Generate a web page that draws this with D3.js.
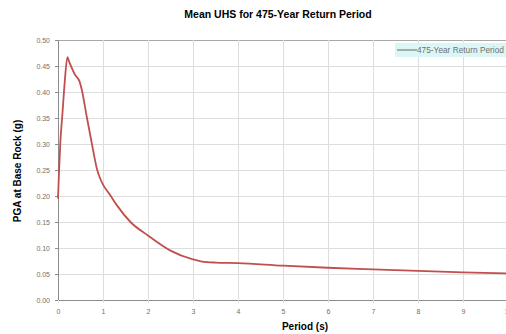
<!DOCTYPE html>
<html>
<head>
<meta charset="utf-8">
<script src="https://cdn.jsdelivr.net/npm/d3@7"></script>
<style>
  body { margin: 0; background: #fff; }
  svg { display: block; font-family: "Liberation Sans", Arial, sans-serif; }
</style>
</head>
<body>
<div id="chart"></div>
<script>
// period (s) and mean UHS spectral acceleration (g)
var periods = [0, 0.02, 0.05, 0.1, 0.15, 0.21, 0.25, 0.38, 0.48, 0.53, 0.64, 0.75, 0.86, 0.93, 1.0, 1.15, 1.31, 1.61, 2.0, 2.5, 3.0, 3.2, 3.5, 4, 5, 6, 7, 8, 9, 10];
var pga     = [0.195, 0.24, 0.30, 0.36, 0.42, 0.467, 0.458, 0.433, 0.42, 0.404, 0.352, 0.302, 0.254, 0.235, 0.222, 0.203, 0.182, 0.150, 0.124, 0.095, 0.078, 0.074, 0.072, 0.071, 0.066, 0.062, 0.059, 0.056, 0.053, 0.051];
var xTicks = [0, 1, 2, 3, 4, 5, 6, 7, 8, 9, 10];
var yTicks = [0, 0.05, 0.1, 0.15, 0.2, 0.25, 0.3, 0.35, 0.4, 0.45, 0.5];
var seriesName = "475-Year Return Period";

var svgWidth = 506, svgHeight = 334;
var margin = {top: 40, left: 58, bottom: 34};
var height = svgHeight - margin.top - margin.bottom;   // 260
var width = 450;  // plot runs past the right edge of the picture

var svg = d3.select("#chart").append("svg")
  .attr("width", svgWidth)
  .attr("height", svgHeight);

var chartGroup = svg.append("g")
  .attr("transform", `translate(${margin.left}, ${margin.top})`);

var xScale = d3.scaleLinear().domain([0, 10]).range([0, width]);
var yScale = d3.scaleLinear().domain([0, 0.5]).range([height, 0]);

// grid lines
chartGroup.selectAll(".hgrid").data(yTicks).enter().append("line")
  .attr("x1", 0).attr("x2", width)
  .attr("y1", d => yScale(d)).attr("y2", d => yScale(d))
  .attr("stroke", d => d === 0.5 ? "#a8a8a8" : "#dedede")
  .attr("stroke-width", 1).attr("shape-rendering", "crispEdges");

chartGroup.selectAll(".vgrid").data(xTicks.slice(1)).enter().append("line")
  .attr("x1", d => xScale(d)).attr("x2", d => xScale(d))
  .attr("y1", 0).attr("y2", height)
  .attr("stroke", "#dedede")
  .attr("stroke-width", 1).attr("shape-rendering", "crispEdges");

// axes
var leftAxis = d3.axisLeft(yScale).tickValues(yTicks).tickFormat(d3.format(".2f")).tickSize(3).tickPadding(5);
var bottomAxis = d3.axisBottom(xScale).tickValues(xTicks).tickFormat(d3.format("d")).tickSize(3).tickPadding(6);

var yAxis = chartGroup.append("g").call(leftAxis);
var xAxis = chartGroup.append("g").attr("transform", `translate(0, ${height})`).call(bottomAxis);

[yAxis, xAxis].forEach(function(ax) {
  ax.select(".domain").attr("stroke", "#8c8c8c");
  ax.selectAll(".tick line").attr("stroke", "#8c8c8c");
  ax.selectAll("text").attr("fill", "#707070").attr("font-size", 7);
});
xAxis.selectAll(".tick line").attr("stroke", "#dedede");

// the curve
var line = d3.line()
  .x((d, i) => xScale(periods[i]))
  .y(d => yScale(d))
  .curve(d3.curveMonotoneX);

chartGroup.append("path")
  .datum(pga)
  .attr("d", line)
  .attr("fill", "none")
  .attr("stroke", "#c0504d")
  .attr("stroke-width", 1.8);

// legend
var legend = svg.append("g").attr("transform", "translate(395, 43)");
legend.append("rect").attr("width", 120).attr("height", 14).attr("fill", "#dcf6f6");
legend.append("line").attr("x1", 2).attr("x2", 22).attr("y1", 7).attr("y2", 7)
  .attr("stroke", "#666").attr("stroke-width", 1);
legend.append("text").attr("x", 22).attr("y", 10)
  .attr("font-size", 8.3).attr("fill", "#707070")
  .text(seriesName);

// titles
svg.append("text").attr("x", 278).attr("y", 18)
  .attr("text-anchor", "middle").attr("font-size", 10.5).attr("font-weight", "bold")
  .text("Mean UHS for 475-Year Return Period");

svg.append("text").attr("x", 305).attr("y", 330)
  .attr("text-anchor", "middle").attr("font-size", 10).attr("font-weight", "bold")
  .text("Period (s)");

svg.append("text")
  .attr("transform", "translate(21, 171) rotate(-90)")
  .attr("text-anchor", "middle").attr("font-size", 10).attr("font-weight", "bold")
  .text("PGA at Base Rock (g)");
</script>
</body>
</html>
